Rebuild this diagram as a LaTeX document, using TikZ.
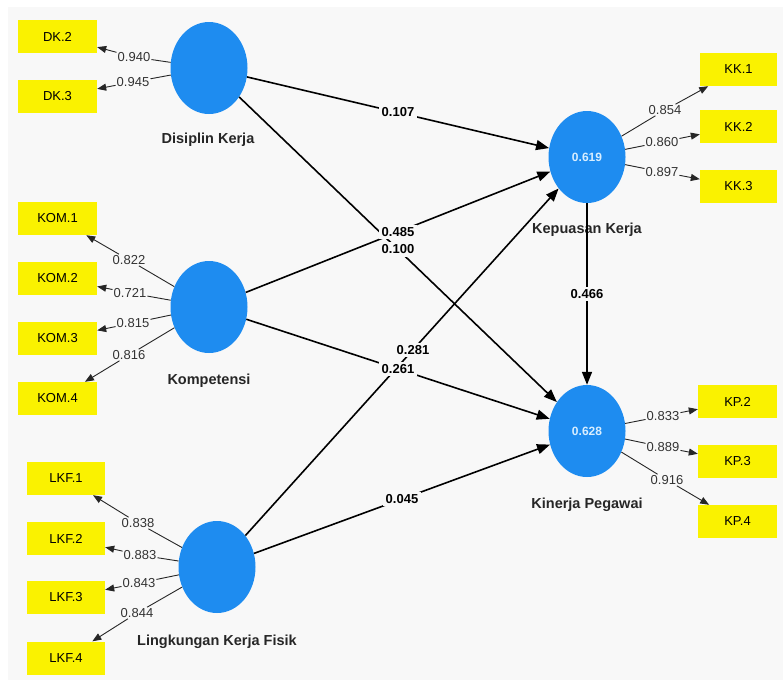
\documentclass[tikz,border=0pt]{standalone}
\usepackage{fontspec}
\setmainfont{Liberation Sans}
\usetikzlibrary{shapes.geometric,arrows.meta}
\definecolor{bg}{HTML}{F8F8F8}
\definecolor{lv}{HTML}{1E8CF0}
\definecolor{ind}{HTML}{FAF200}
\definecolor{lvtxt}{HTML}{D8EEFF}
\begin{document}
\begin{tikzpicture}[x=1pt,y=-1pt,
 lat/.style={ellipse, fill=lv, minimum width=77pt, minimum height=92pt, inner sep=0pt, text=lvtxt, font=\fontsize{12}{14}\selectfont\bfseries},
 indbox/.style={rectangle, fill=ind, minimum width=79pt, minimum height=33pt, inner sep=0pt, font=\fontsize{13}{15}\selectfont},
 latname/.style={font=\fontsize{14.5}{16}\selectfont\bfseries, text=black!85},
 ld/.style={fill=bg, inner sep=1pt, font=\fontsize{13}{15}\selectfont, text=black!80},
 coef/.style={fill=bg, inner sep=2.5pt, font=\fontsize{13}{15}\selectfont\bfseries},
 sline/.style={line width=1.6pt, -{Triangle[length=13pt,width=10pt]}},
 lline/.style={line width=0.9pt, black!85},
 larr/.style={lline, -{Triangle[length=9pt,width=7pt]}}
]
\useasboundingbox (0,0) rectangle (783,686);
\fill[white] (0,0) rectangle (783,686);
\fill[bg] (8,7) rectangle (783,680);

% latent variables
\node[lat] (dk) at (209,68) {};
\node[lat] (kom) at (209,307) {};
\node[lat] (lkf) at (217,567) {};
\node[lat] (kek) at (587,157) {0.619};
\node[lat] (kp) at (587,431) {0.628};

\node[latname] (ndk) at (208,140) {Disiplin Kerja};
\node[latname] (nkom) at (209,381) {Kompetensi};
\node[latname] (nlkf) at (217,642) {Lingkungan Kerja Fisik};
\node[latname] (nkek) at (587,230) {Kepuasan Kerja};
\node[latname] (nkp) at (587,505) {Kinerja Pegawai};

% indicators
\node[indbox] (dk2) at (57.5,36.5) {DK.2};
\node[indbox] (dk3) at (57.5,96.5) {DK.3};
\node[indbox] (kom1) at (57.5,218.5) {KOM.1};
\node[indbox] (kom2) at (57.5,278.5) {KOM.2};
\node[indbox] (kom3) at (57.5,338.5) {KOM.3};
\node[indbox] (kom4) at (57.5,398.5) {KOM.4};
\node[indbox, minimum width=78pt] (lkf1) at (66,478.5) {LKF.1};
\node[indbox, minimum width=78pt] (lkf2) at (66,538.5) {LKF.2};
\node[indbox, minimum width=78pt] (lkf3) at (66,597.5) {LKF.3};
\node[indbox, minimum width=78pt] (lkf4) at (66,658) {LKF.4};
\node[indbox, minimum width=77pt] (kk1) at (738.5,69.5) {KK.1};
\node[indbox, minimum width=77pt] (kk2) at (738.5,126.5) {KK.2};
\node[indbox, minimum width=77pt] (kk3) at (738.5,186.5) {KK.3};
\node[indbox] (kp2) at (737.5,401.5) {KP.2};
\node[indbox] (kp3) at (737.5,461.5) {KP.3};
\node[indbox] (kp4) at (737.5,521.5) {KP.4};

% loading labels
\node[ld] (a1) at (134,57) {0.940};
\node[ld] (a2) at (133,82) {0.945};
\node[ld] (b1) at (129,260) {0.822};
\node[ld] (b2) at (130,293) {0.721};
\node[ld] (b3) at (133,323) {0.815};
\node[ld] (b4) at (129,355) {0.816};
\node[ld] (c1) at (138,523) {0.838};
\node[ld] (c2) at (140,555) {0.883};
\node[ld] (c3) at (139,583) {0.843};
\node[ld] (c4) at (137,613) {0.844};
\node[ld] (d1) at (665,110) {0.854};
\node[ld] (d2) at (662,142) {0.860};
\node[ld] (d3) at (662,172) {0.897};
\node[ld] (e1) at (663,416) {0.833};
\node[ld] (e2) at (663,447) {0.889};
\node[ld] (e3) at (667,480) {0.916};

% loading connectors
\draw[lline] (dk) -- (a1); \draw[larr] (a1) -- (dk2);
\draw[lline] (dk) -- (a2); \draw[larr] (a2) -- (dk3);
\draw[lline] (kom) -- (b1); \draw[larr] (b1) -- (kom1);
\draw[lline] (kom) -- (b2); \draw[larr] (b2) -- (kom2);
\draw[lline] (kom) -- (b3); \draw[larr] (b3) -- (kom3);
\draw[lline] (kom) -- (b4); \draw[larr] (b4) -- (kom4);
\draw[lline] (lkf) -- (c1); \draw[larr] (c1) -- (lkf1);
\draw[lline] (lkf) -- (c2); \draw[larr] (c2) -- (lkf2);
\draw[lline] (lkf) -- (c3); \draw[larr] (c3) -- (lkf3);
\draw[lline] (lkf) -- (c4); \draw[larr] (c4) -- (lkf4);
\draw[lline] (kek) -- (d1); \draw[larr] (d1) -- (kk1);
\draw[lline] (kek) -- (d2); \draw[larr] (d2) -- (kk2);
\draw[lline] (kek) -- (d3); \draw[larr] (d3) -- (kk3);
\draw[lline] (kp) -- (e1); \draw[larr] (e1) -- (kp2);
\draw[lline] (kp) -- (e2); \draw[larr] (e2) -- (kp3);
\draw[lline] (kp) -- (e3); \draw[larr] (e3) -- (kp4);

% structural paths
\draw[sline] (dk) -- node[coef]{0.107} (kek);
\draw[sline] (dk) -- node[coef]{0.100} (kp);
\draw[sline] (kom) -- node[coef]{0.485} (kek);
\draw[sline] (lkf) -- node[coef, pos=0.535]{0.281} (kek);
\draw[sline] (kom) -- node[coef]{0.261} (kp);
\draw[sline] (lkf) -- node[coef]{0.045} (kp);
\draw[sline] (kek) -- node[coef]{0.466} (kp);
\end{tikzpicture}
\end{document}
